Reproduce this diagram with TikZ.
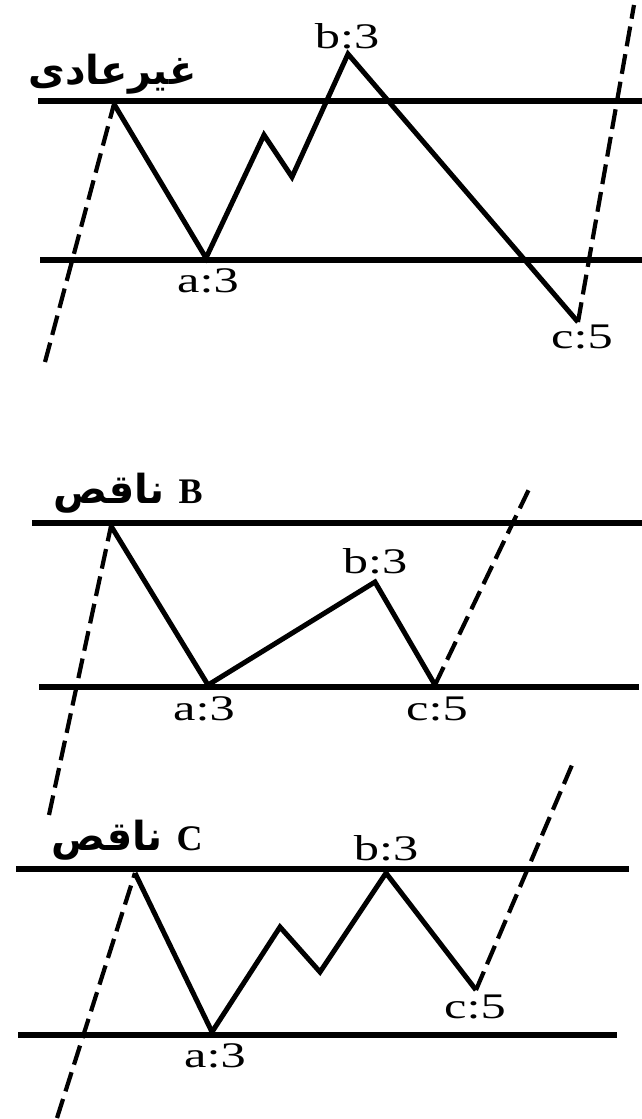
\documentclass[tikz,border=0pt]{standalone}
\usepackage{fontspec}
\setmainfont{Liberation Serif}
\newfontfamily\fafont[Script=Arabic]{DejaVu Sans}
\newfontfamily\lblfont[FakeStretch=1.4]{Liberation Serif}
\TeXXeTstate=1

\begin{document}
\begin{tikzpicture}[x=0.5pt,y=-0.5pt,line join=miter,
  level/.style={line width=2.6pt},
  wave/.style={line width=2.5pt},
  trend/.style={line width=2.1pt,dash pattern=on 10pt off 4pt},
  lbl/.style={font=\lblfont\fontsize{18}{20}\selectfont,inner sep=0pt,anchor=base},
  ttl/.style={font=\fafont\bfseries\fontsize{20}{22}\selectfont,inner sep=0pt,anchor=base east}]
\useasboundingbox (0,0) rectangle (642,1119);

% top: irregular
\coordinate (t1l) at (38,101);
\coordinate (t1r) at (642,101);
\coordinate (d1l) at (40,260);
\coordinate (d1r) at (642,260);
\coordinate (s1) at (45,362);
\coordinate (p1) at (114,104);
\coordinate (a1) at (206,258);
\coordinate (x1) at (264,135);
\coordinate (y1) at (292,177);
\coordinate (b1) at (348,54);
\coordinate (c1) at (578,322);
\coordinate (e1) at (634,5);
\draw[level] (t1l) -- (t1r);
\draw[level] (d1l) -- (d1r);
\draw[trend] (s1) -- (p1);
\draw[wave] (p1) -- (a1) -- (x1) -- (y1) -- (b1) -- (c1);
\draw[trend] (c1) -- (e1);
\node[ttl] (irr) at (197,84) {\beginR غیرعادی\endR};
\node[lbl] (la1) at (208,292) {a:3};
\node[lbl] (lb1) at (347,48) {b:3};
\node[lbl] (lc1) at (582,348) {c:5};

% middle: flat B
\coordinate (t2l) at (32,523);
\coordinate (t2r) at (642,523);
\coordinate (d2l) at (39,687);
\coordinate (d2r) at (639,687);
\coordinate (s2) at (49,815);
\coordinate (p2) at (111,526);
\coordinate (a2) at (208,685);
\coordinate (b2) at (375,582);
\coordinate (c2) at (435,685);
\coordinate (e2) at (531,485);
\draw[level] (t2l) -- (t2r);
\draw[level] (d2l) -- (d2r);
\draw[trend] (s2) -- (p2);
\draw[wave] (p2) -- (a2) -- (b2) -- (c2);
\draw[trend] (c2) -- (e2);
\node[ttl] (flatB) at (203,503) {\beginR ناقص\endR{} {\rmfamily\bfseries\fontsize{18}{20}\selectfont B}};
\node[lbl] (la2) at (204,720) {a:3};
\node[lbl] (lb2) at (375,573) {b:3};
\node[lbl] (lc2) at (437,720) {c:5};

% bottom: flat C
\coordinate (t3l) at (16,869);
\coordinate (t3r) at (629,869);
\coordinate (d3l) at (18,1035);
\coordinate (d3r) at (617,1035);
\coordinate (s3) at (57,1118);
\coordinate (p3) at (135,873);
\coordinate (a3) at (212,1032);
\coordinate (x3) at (280,927);
\coordinate (y3) at (320,972);
\coordinate (b3) at (386,873);
\coordinate (c3) at (476,990);
\coordinate (e3) at (572,765);
\draw[level] (t3l) -- (t3r);
\draw[level] (d3l) -- (d3r);
\draw[trend] (s3) -- (p3);
\draw[wave] (p3) -- (a3) -- (x3) -- (y3) -- (b3) -- (c3);
\draw[trend] (c3) -- (e3);
\node[ttl] (flatC) at (203,850) {\beginR ناقص\endR{} {\rmfamily\bfseries\fontsize{18}{20}\selectfont C}};
\node[lbl] (la3) at (215,1067) {a:3};
\node[lbl] (lb3) at (386,860) {b:3};
\node[lbl] (lc3) at (475,1018) {c:5};
\end{tikzpicture}
\end{document}
